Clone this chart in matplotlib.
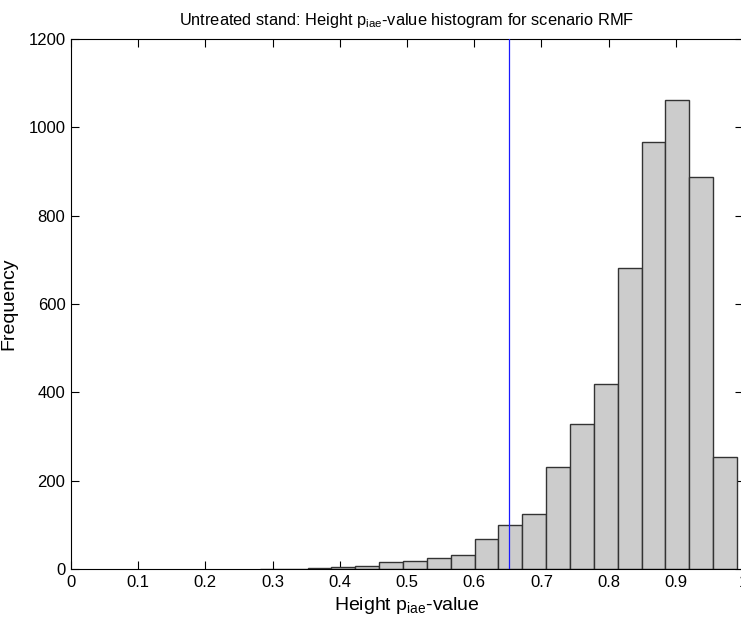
import numpy as np
import matplotlib
matplotlib.use("Agg")
import matplotlib.pyplot as plt

plt.rcParams['font.family'] = ['Liberation Sans', 'DejaVu Sans']
plt.rcParams['mathtext.fontset'] = 'custom'
plt.rcParams['mathtext.rm'] = 'Liberation Sans'
plt.rcParams['mathtext.it'] = 'Liberation Sans'

# histogram data (20 bins between the min and max p-value)
p_min, p_max = 0.281, 0.991
counts = [1, 1, 2, 4, 6, 16, 17, 26, 32, 67, 99, 124, 232, 328, 420, 681, 966, 1063, 887, 253]
threshold = 0.652

x_ticks = [0, 0.1, 0.2, 0.3, 0.4, 0.5, 0.6, 0.7, 0.8, 0.9, 1]
x_tick_labels = ['0', '0.1', '0.2', '0.3', '0.4', '0.5', '0.6', '0.7', '0.8', '0.9', '1']
y_ticks = [0, 200, 400, 600, 800, 1000, 1200]

edges = np.linspace(p_min, p_max, len(counts) + 1)
width = edges[1] - edges[0]

fig = plt.figure(figsize=(7.41, 6.21), dpi=100)
ax = fig.add_axes([71 / 741, 52 / 621, 672 / 741, 530 / 621])

ax.bar(edges[:-1], counts, width=width, align='edge', color='#cccccc',
       edgecolor='#333333', linewidth=1.0, zorder=2)
ax.axvline(threshold, color='#1a1aff', linewidth=0.9, zorder=3)

ax.set_xlim(0, 1)
ax.set_ylim(0, 1200)
ax.set_xticks(x_ticks)
ax.set_xticklabels(x_tick_labels)
ax.set_yticks(y_ticks)
ax.tick_params(direction='in', top=True, right=True, length=6, width=0.8,
               labelsize=12, pad=4)
for s in ax.spines.values():
    s.set_linewidth(0.8)

ax.set_xlabel(r'Height p$_{\mathrm{iae}}$-value', fontsize=14, labelpad=4)
ax.set_ylabel('Frequency', fontsize=14, labelpad=8)
ax.set_title(r'Untreated stand: Height p$_{\mathrm{iae}}$-value histogram for scenario RMF',
             fontsize=11.8, pad=10)

fig.savefig('out.png', dpi=100)
